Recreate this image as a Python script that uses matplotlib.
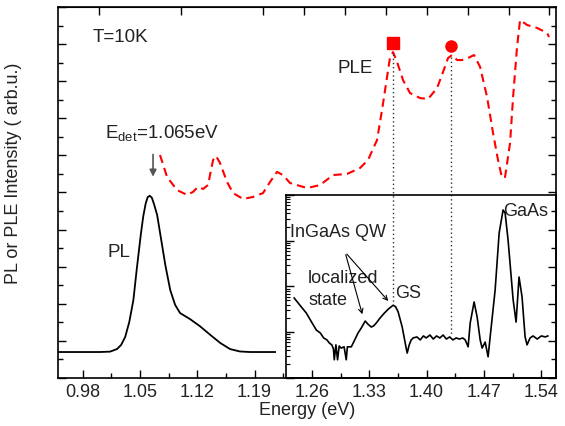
import numpy as np
import matplotlib
matplotlib.use("Agg")
import matplotlib.pyplot as plt
from matplotlib.ticker import MultipleLocator, FixedLocator, LogLocator, NullFormatter

plt.rcParams['font.family'] = ['Liberation Sans', 'DejaVu Sans']
plt.rcParams['mathtext.fontset'] = 'custom'
plt.rcParams['mathtext.rm'] = 'Liberation Sans'
plt.rcParams['mathtext.it'] = 'Liberation Sans'

# PL spectrum (main panel, black)
pl_e = [0.950, 1.001, 1.0135, 1.022, 1.027, 1.032, 1.037, 1.042, 1.046, 1.051, 1.054,
        1.057, 1.0595, 1.062, 1.0645, 1.067, 1.071, 1.076, 1.081, 1.087, 1.093, 1.099,
        1.111, 1.123, 1.136, 1.148, 1.160, 1.172, 1.184, 1.215]
pl_i = [1.40, 1.40, 1.42, 1.56, 1.78, 2.21, 3.02, 4.20, 5.82, 7.71, 8.70,
        9.40, 9.75, 9.82, 9.72, 9.40, 8.79, 7.44, 6.09, 4.74, 3.94, 3.50,
        3.18, 2.80, 2.32, 1.89, 1.56, 1.43, 1.40, 1.40]

# PLE spectrum (main panel, red dashed)
ple_e = [1.0745, 1.0831, 1.0953, 1.1075, 1.1148, 1.1209, 1.1270, 1.1331, 1.1393, 1.1429,
         1.1478, 1.1563, 1.1637, 1.1759, 1.1881, 1.2003, 1.2089, 1.2174, 1.2247, 1.2333,
         1.2418, 1.2540, 1.2699, 1.2858, 1.3029, 1.3187, 1.3285, 1.3395, 1.3456, 1.3517,
         1.3554, 1.3590, 1.3639, 1.3712, 1.3798, 1.3920, 1.4018, 1.4128, 1.4201, 1.4262,
         1.4311, 1.4372, 1.4433, 1.4506, 1.4579, 1.4653, 1.4738, 1.4811, 1.4872, 1.4921,
         1.4958, 1.5019, 1.5056, 1.5104, 1.5141, 1.5227, 1.5349, 1.5471, 1.5495]
ple_i = [12.02, 10.84, 10.13, 9.87, 10.03, 10.30, 10.19, 10.40, 11.75, 11.97,
         11.59, 10.57, 9.97, 9.65, 9.76, 9.97, 10.57, 11.11, 10.94, 10.51,
         10.40, 10.24, 10.40, 10.94, 11.00, 11.32, 11.75, 12.83, 14.45, 16.23,
         17.30, 17.57, 17.04, 16.06, 15.36, 15.09, 15.04, 15.63, 16.50, 17.25,
         17.41, 17.14, 17.14, 17.25, 17.41, 16.77, 15.15, 13.21, 11.75, 10.78,
         10.84, 12.67, 15.15, 17.84, 19.30, 19.03, 18.87, 18.60, 18.38]

# high energy PL spectrum (inset, log scale)
ins_e = [1.238, 1.245, 1.253, 1.259, 1.265, 1.270, 1.274, 1.278, 1.281, 1.284,
         1.286, 1.287, 1.289, 1.291, 1.293, 1.2955, 1.299, 1.3016, 1.303, 1.3078,
         1.312, 1.316, 1.320, 1.3248, 1.328, 1.3322, 1.335, 1.3383, 1.343, 1.348,
         1.353, 1.359, 1.362, 1.365, 1.370, 1.3737, 1.3761, 1.3786, 1.381, 1.3834,
         1.388, 1.392, 1.396, 1.3993, 1.404, 1.408, 1.412, 1.416, 1.420, 1.424,
         1.428, 1.432, 1.436, 1.440, 1.444, 1.447, 1.4506, 1.4531, 1.4579, 1.4616,
         1.4653, 1.4677, 1.4714, 1.4750, 1.4775, 1.4836, 1.4885, 1.4933, 1.4958, 1.4994,
         1.5056, 1.5092, 1.5128, 1.5165, 1.5202, 1.5226, 1.5263, 1.530, 1.535, 1.540,
         1.545, 1.548]
ins_i = [56, 39, 26, 17, 11.2, 9.6, 7.5, 6.8, 5.8, 5.3,
         4.3, 2.5, 5.3, 2.5, 5.0, 4.5, 4.8, 2.5, 4.8, 4.8,
         6.8, 9.6, 12.4, 17.6, 15.1, 13, 13.7, 15.9, 20.5, 26,
         32, 39, 36, 28, 13, 5.8, 3.5, 5.3, 6.8, 7.5,
         7.9, 6.8, 8.3, 7.5, 8.7, 7.1, 8.3, 7.5, 8.7, 7.1,
         7.9, 6.8, 7.5, 7.1, 7.5, 6.8, 4.8, 15.9, 46, 21.5,
         6.8, 4.5, 6.1, 2.9, 7.9, 84, 1476, 4700, 4040, 1038,
         51, 16.7, 161, 59, 7.9, 5.3, 7.5, 8.3, 7.1, 8.3,
         7.9, 8.3]

# marked PLE peaks
mark_e = [1.359, 1.430]
mark_i = [18.06, 17.9]
drop_to = [4.04, 2.32]

txt = '#222222'
fig = plt.figure(figsize=(5.65, 4.26), dpi=100)
ax = fig.add_axes([0.1027, 0.1127, 0.8814, 0.8709])

ax.plot(pl_e, pl_i, color='black', lw=1.3)
ax.plot(ple_e, ple_i, color='red', lw=1.5, ls=(0, (4, 2.5)))
ax.plot(mark_e[0], mark_i[0], 's', color='red', ms=8)
ax.plot(mark_e[1], mark_i[1], 'o', color='red', ms=8)
for e, top, bot in zip(mark_e, mark_i, drop_to):
    ax.plot([e, e], [top - 0.6, bot], color='#333333', lw=1, ls=(0, (1, 2)))

ax.set_xlim(0.95, 1.558)
ax.set_ylim(0, 20)
ax.xaxis.set_major_locator(FixedLocator(np.arange(0.98, 1.56, 0.07)))
ax.xaxis.set_minor_locator(FixedLocator(np.arange(0.945, 1.56, 0.07)))
ax.xaxis.set_major_formatter(matplotlib.ticker.FormatStrFormatter('%.2f'))
ax.yaxis.set_major_locator(MultipleLocator(2))
ax.yaxis.set_minor_locator(MultipleLocator(1))
ax.yaxis.set_major_formatter(NullFormatter())
ax.tick_params(which='both', direction='in', labelsize=13, labelcolor=txt,
               left=True, right=True, bottom=True, top=False, pad=4)
ax.tick_params(which='major', length=6, width=1)
ax.tick_params(which='minor', length=3.5, width=1)
for s in ax.spines.values():
    s.set_linewidth(1.2)

top = ax.secondary_xaxis('top')
top.xaxis.set_major_locator(FixedLocator([1.0, 1.1, 1.2, 1.25, 1.3, 1.35, 1.4, 1.45, 1.5, 1.55]))
top.xaxis.set_major_formatter(NullFormatter())
top.tick_params(direction='in', length=6, width=1)

ax.set_xlabel('Energy (eV)', fontsize=13, color=txt, labelpad=1)
ax.set_ylabel('PL or PLE Intensity ( arb.u.)', fontsize=13, color=txt)
ax.yaxis.set_label_coords(-0.072, 0.553)

ax.text(0.9927, 18.33, 'T=10K', fontsize=13.5, color=txt, va='center')
ax.text(1.2907, 16.71, 'PLE', fontsize=13.5, color=txt, va='center')
ax.text(1.0074, 12.94, r'E$_{\mathrm{det}}$=1.065eV', fontsize=13.5, color=txt, va='baseline')
ax.text(1.011, 6.79, 'PL', fontsize=13.5, color=txt, va='center')
ax.annotate('', xy=(1.066, 10.7), xytext=(1.066, 12.2),
            arrowprops=dict(arrowstyle='-|>', color='#555555', lw=1.2, mutation_scale=10))

ax.text(1.2333, 7.82, 'InGaAs QW', fontsize=13, color=txt, va='center')
ax.text(1.2553, 5.39, 'localized', fontsize=13, color=txt, va='center')
ax.text(1.2553, 4.20, 'state', fontsize=13, color=txt, va='center')
ax.text(1.3615, 4.58, 'GS', fontsize=13, color=txt, va='center')
ax.text(1.4933, 8.95, 'GaAs', fontsize=13, color=txt, va='center')
for end in [(1.3224, 3.29), (1.3554, 4.04)]:
    ax.annotate('', xy=end, xytext=(1.3004, 6.79),
                arrowprops=dict(arrowstyle='->', color='black', lw=0.8, mutation_scale=8))

ins = fig.add_axes([0.5062, 0.1127, 0.4779, 0.4296])
ins.patch.set_alpha(0)
ins.plot(ins_e, ins_i, color='black', lw=1.2)
ins.set_yscale('log')
ins.set_ylim(1, 1e4)
ins.set_xlim(1.228, 1.558)
ins.yaxis.set_major_locator(LogLocator(base=10, numticks=10))
ins.yaxis.set_minor_locator(LogLocator(base=10, subs=np.arange(2, 10), numticks=10))
ins.yaxis.set_major_formatter(NullFormatter())
ins.yaxis.set_minor_formatter(NullFormatter())
ins.xaxis.set_major_locator(FixedLocator([]))
ins.xaxis.set_minor_locator(FixedLocator([]))
ins.tick_params(which='both', direction='in', right=False, bottom=False, top=False)
ins.tick_params(which='major', length=6, width=1)
ins.tick_params(which='minor', length=3, width=0.8)
for s in ins.spines.values():
    s.set_linewidth(1.2)

fig.savefig('out.png', dpi=100)
